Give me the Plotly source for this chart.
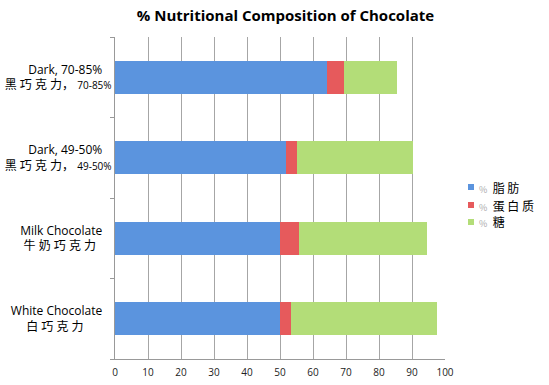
import plotly.graph_objects as go

NB = "&nbsp;"
categories = [
    "White Chocolate" + NB * 3 + "<br>白 巧 克 力" + NB * 9,
    "Milk Chocolate" + NB * 3 + "<br>牛 奶 巧 克 力" + NB * 5,
    "Dark, 49-50%" + NB * 3 + "<br>黑 巧 克 力， <span style='font-size:10px'>49-50%</span>",
    "Dark, 70-85%" + NB * 3 + "<br>黑 巧 克 力， <span style='font-size:10px'>70-85%</span>",
]
fat = [50, 50, 51.7, 64.1]
protein = [3.3, 5.8, 3.5, 5.3]
sugar = [44.4, 38.6, 35.2, 16.0]
x_ticks = [0, 10, 20, 30, 40, 50, 60, 70, 80, 90, 100]

series_names = ["脂 肪", "蛋 白 质", "糖"]
series_values = [fat, protein, sugar]
series_colors = ["#5B94DE", "#E65A5C", "#B3DD78"]

fig = go.Figure()
for name, vals, col in zip(series_names, series_values, series_colors):
    fig.add_trace(go.Bar(
        y=categories, x=vals, name="% " + name, orientation="h",
        marker=dict(color=col, line=dict(width=0)),
        showlegend=False,
    ))

# legend drawn manually so it does not push the plot margins
W, H, L, B = 330, 322, 115, 26
def px_to_paper(px, py):
    return (px - L) / W, ((385 - B) - py) / H

legend_rows_y = [187, 205, 222]
for name, col, py in zip(series_names, series_colors, legend_rows_y):
    x0, y0 = px_to_paper(468, py - 3)
    x1, y1 = px_to_paper(474, py + 3)
    fig.add_shape(type="rect", xref="paper", yref="paper",
                  x0=x0, x1=x1, y0=y1, y1=y0,
                  fillcolor=col, line=dict(width=0))
    tx, ty = px_to_paper(477, py)
    fig.add_annotation(xref="paper", yref="paper", x=tx, y=ty,
                       xanchor="left", yanchor="middle", showarrow=False,
                       text="<span style='color:#aaaaaa;font-size:9px'>%</span>  " + name,
                       font=dict(size=12, family="Noto Sans CJK SC, sans-serif", color="#000"))

fig.update_layout(
    barmode="stack",
    bargap=0.59,
    width=549, height=385,
    margin=dict(l=L, r=549 - L - W, t=37, b=B),
    paper_bgcolor="white", plot_bgcolor="white",
    font=dict(family="Open Sans, Noto Sans CJK SC, sans-serif", size=12, color="#000"),
    title=dict(text="<b>% Nutritional Composition of Chocolate</b>",
               x=0.52, xanchor="center", y=0.958, yanchor="middle",
               font=dict(size=15, color="#000")),
    showlegend=False,
)
fig.update_xaxes(
    range=[0, 100], tickvals=x_ticks, ticktext=[str(v) for v in x_ticks],
    showgrid=True, gridcolor="#A6A6A6", gridwidth=1,
    showline=True, linecolor="#999999", linewidth=1,
    ticks="", tickfont=dict(size=10, color="#222"), ticklabelstandoff=4,
    zeroline=False, fixedrange=True, automargin=False,
)
fig.update_yaxes(
    categoryorder="array", categoryarray=categories,
    showline=True, linecolor="#999999", linewidth=1,
    ticks="outside", tickson="boundaries", ticklen=4, tickcolor="#999999",
    tickfont=dict(size=12, color="#000"),
    showgrid=False, fixedrange=True, automargin=False,
)

fig.write_html("out.html", config={"displayModeBar": False},
               post_script="document.body.style.margin='0';")
